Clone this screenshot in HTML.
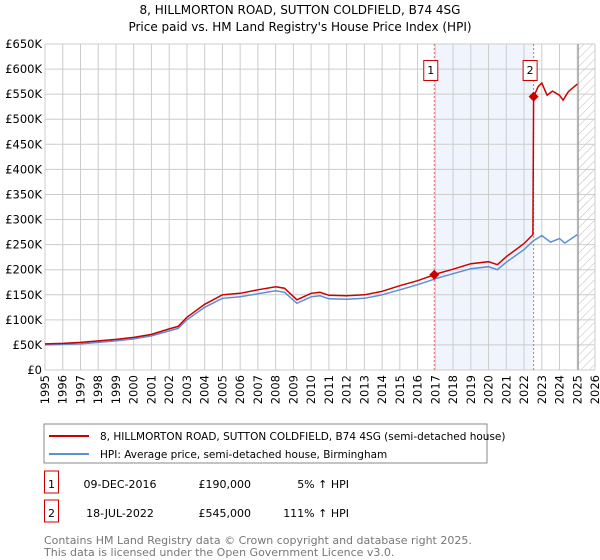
<!DOCTYPE html>
<html><head><meta charset="utf-8"><style>
body{margin:0;background:#fff;font-family:"DejaVu Sans","Liberation Sans",sans-serif;}
#wrap{position:relative;width:600px;height:560px;overflow:hidden;}
svg text{font-family:"DejaVu Sans","Liberation Sans",sans-serif;}
</style></head><body>
<div id="wrap">
<svg id="chart" width="600" height="560"></svg>
</div>
<script>
const hpiDates=[1995,1996,1997,1998,1999,2000,2001,2002,2002.5,2003,2004,2005,2006,2007,2008,2008.5,2009.2,2010,2010.5,2011,2012,2013,2014,2015,2016,2016.94,2017,2018,2019,2020,2020.5,2021,2022,2022.54,2023,2023.5,2024,2024.3,2025];
const hpiValues=[50,51,52,55,58,62,68,78,83,100,125,143,146,152,158,155,133,146,148,142,141,143,150,160,170,181,182,192,202,206,200,215,240,258,268,255,262,253,270];
const priceDates=[1995,1996,1997,1998,1999,2000,2001,2002,2002.5,2003,2004,2005,2006,2007,2008,2008.5,2009.2,2010,2010.5,2011,2012,2013,2014,2015,2016,2016.94,2017,2018,2019,2020,2020.5,2021,2022,2022.5,2022.54,2022.8,2023,2023.3,2023.6,2024,2024.2,2024.5,2025];
const priceValues=[52,53,55,58,61,65,71,82,87,105,131,150,153,160,166,163,140,153,155,149,148,150,157,168,178,190,191,201,212,216,210,226,252,270,545,565,572,548,556,548,538,555,570];
const yTicks=[0,50,100,150,200,250,300,350,400,450,500,550,600,650];
const xTicks=[1995,1996,1997,1998,1999,2000,2001,2002,2003,2004,2005,2006,2007,2008,2009,2010,2011,2012,2013,2014,2015,2016,2017,2018,2019,2020,2021,2022,2023,2024,2025,2026];
const saleDates=[2016.94,2022.54];
const salePrices=[190,545];
const saleLabels=["1","2"];

const NS="http://www.w3.org/2000/svg";
const svg=document.getElementById('chart');
const L=45,R=595,T=44,B=370;
const x=v=>L+(v-1995)/(2026-1995)*(R-L);
const y=v=>B-v/650*(B-T);
function el(tag,attrs,parent){const e=document.createElementNS(NS,tag);for(const k in attrs)e.setAttribute(k,attrs[k]);(parent||svg).appendChild(e);return e;}
function txt(s,attrs){const e=el('text',attrs);e.textContent=s;return e;}

const defs=el('defs',{});
const pat=el('pattern',{id:'hatch',width:6,height:6,patternUnits:'userSpaceOnUse',patternTransform:'rotate(45)'},defs);
el('line',{x1:0,y1:0,x2:0,y2:6,stroke:'#bbb','stroke-width':1},pat);

let t=txt('8, HILLMORTON ROAD, SUTTON COLDFIELD, B74 4SG',{x:300,y:14,'text-anchor':'middle','font-size':12,fill:'#000'});

t=txt("Price paid vs. HM Land Registry's House Price Index (HPI)",{x:300,y:31,'text-anchor':'middle','font-size':12,fill:'#000'});


let sh=el('rect',{x:x(saleDates[0]),y:T,width:x(saleDates[1])-x(saleDates[0]),height:B-T,fill:'#f0f4fc'});

let hz=el('rect',{x:x(2025.05),y:T,width:R-x(2025.05),height:B-T,fill:'url(#hatch)'});


const grid=el('g',{});

yTicks.forEach(v=>{el('line',{x1:L,x2:R,y1:y(v),y2:y(v),stroke:'#ccc','stroke-width':1},grid);
 const lab=txt('£'+(v===0?'0':v+'K'),{x:L-3,y:y(v)+4,'text-anchor':'end','font-size':11.5,fill:'#000'});
 });
xTicks.forEach(v=>{el('line',{x1:x(v),x2:x(v),y1:T,y2:B,stroke:'#ccc','stroke-width':1},grid);
 const lab=txt(String(v),{x:0,y:0,'text-anchor':'end','font-size':11.5,fill:'#000',transform:`translate(${x(v)+4},${B+5}) rotate(-90)`});
 });
el('line',{x1:x(2025.05),x2:x(2025.05),y1:T,y2:B,stroke:'#888','stroke-width':1});

saleDates.forEach(d=>{const l=el('line',{x1:x(d),x2:x(d),y1:T,y2:B,stroke:'#e66','stroke-width':1,'stroke-dasharray':'2,2'});
 });

function path(ds,vs){return ds.map((d,i)=>(i?'L':'M')+x(d).toFixed(1)+','+y(vs[i]).toFixed(1)).join('');}
let hp=el('path',{d:path(hpiDates,hpiValues),fill:'none',stroke:'#5b8fd6','stroke-width':1.5});

let pp=el('path',{d:path(priceDates,priceValues),fill:'none',stroke:'#cc0000','stroke-width':1.5});


saleDates.forEach((d,i)=>{
 const cx=x(d),cy=y(salePrices[i]);
 const dm=el('path',{d:`M${cx},${cy-5}L${cx+5},${cy}L${cx},${cy+5}L${cx-5},${cy}Z`,fill:'#cc0000'});
 
 const bx=el('rect',{x:cx-10.5,y:60.5,width:14,height:20,fill:'#fff',stroke:'#cc0000','stroke-width':1});
 
 const tl=txt(saleLabels[i],{x:cx-3.5,y:74,'text-anchor':'middle','font-size':11,fill:'#000'});
 
});

const lg=el('g',{});
el('rect',{x:44,y:424,width:443,height:39,fill:'#fff',stroke:'#888','stroke-width':1},lg);
el('line',{x1:49,x2:89,y1:436,y2:436,stroke:'#cc0000','stroke-width':2},lg);
el('line',{x1:49,x2:89,y1:454,y2:454,stroke:'#5b8fd6','stroke-width':2},lg);
let le=txt('8, HILLMORTON ROAD, SUTTON COLDFIELD, B74 4SG (semi-detached house)',{x:100,y:440,'font-size':10.5,fill:'#000'});

le=txt('HPI: Average price, semi-detached house, Birmingham',{x:100,y:458,'font-size':10.5,fill:'#000'});


const rows=[["1","09-DEC-2016","£190,000","5% ↑ HPI"],["2","18-JUL-2022","£545,000","111% ↑ HPI"]];
rows.forEach((r,i)=>{
 const yy=484+i*29;
 const b=el('rect',{x:44.5,y:yy-13,width:14,height:22,fill:'#fff',stroke:'#cc0000','stroke-width':1});
 
 let c=txt(r[0],{x:51.5,y:yy+4,'text-anchor':'middle','font-size':11,fill:'#000'});
 
 c=txt(r[1],{x:120,y:yy+4,'text-anchor':'middle','font-size':11,fill:'#000'});
 
 c=txt(r[2],{x:251,y:yy+4,'text-anchor':'end','font-size':11,fill:'#000'});
 
 c=txt(r[3],{x:349,y:yy+4,'text-anchor':'end','font-size':11,fill:'#000'});
 
});
let f=txt('Contains HM Land Registry data © Crown copyright and database right 2025.',{x:44,y:544,'font-size':11,fill:'#777'});

f=txt('This data is licensed under the Open Government Licence v3.0.',{x:44,y:556,'font-size':11,fill:'#777'});

</script>
</body></html>
